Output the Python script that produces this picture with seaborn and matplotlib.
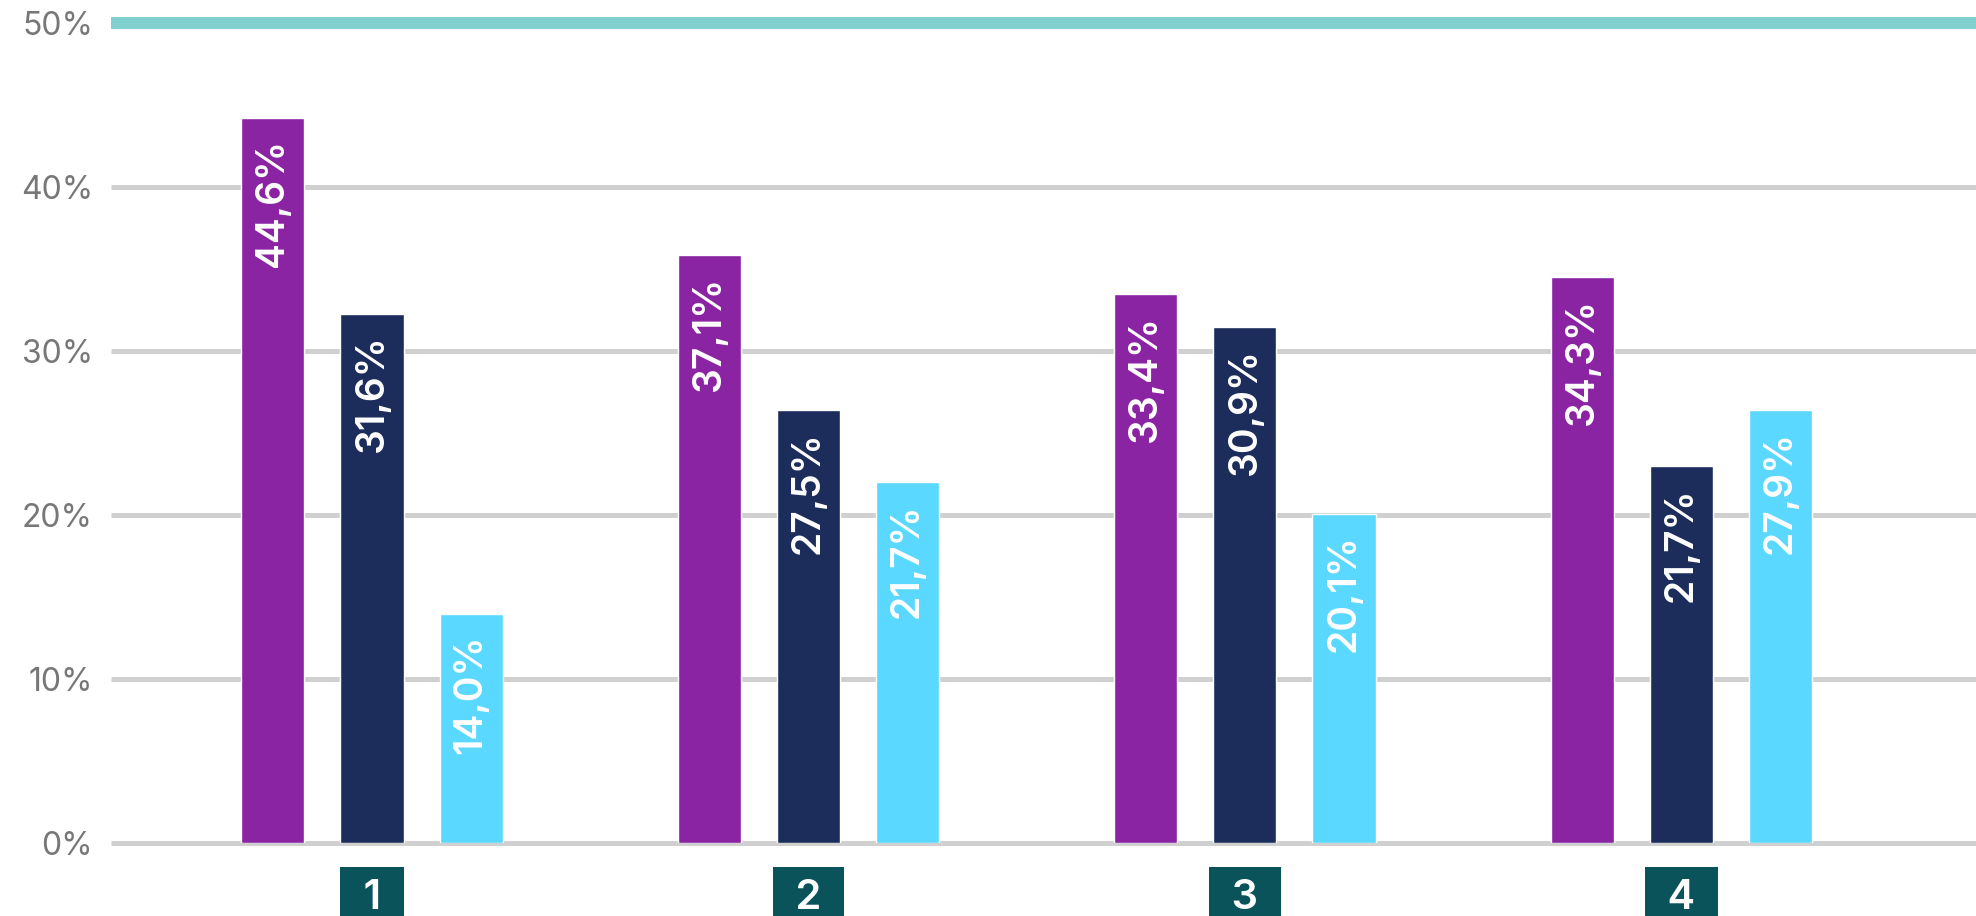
import pandas as pd
import seaborn as sns
import matplotlib.pyplot as plt

# valores
grupos = ['1', '2', '3', '4']
series = ['serie_a', 'serie_b', 'serie_c']
cores = ['#8a24a3', '#1c2d5b', '#5ad8ff']

# altura das barras (como desenhadas)
altura_a = [44.2, 35.9, 33.5, 34.5]
altura_b = [32.3, 26.4, 31.5, 23.0]
altura_c = [14.0, 22.0, 20.1, 26.4]

# rotulos escritos nas barras
rotulos_a = ['44,6%', '37,1%', '33,4%', '34,3%']
rotulos_b = ['31,6%', '27,5%', '30,9%', '21,7%']
rotulos_c = ['14,0%', '21,7%', '20,1%', '27,9%']

ticks_y = [0, 10, 20, 30, 40, 50]

# monta o dataframe longo
df = pd.DataFrame({
    'grupo': grupos * 3,
    'serie': [s for s in series for _ in grupos],
    'valor': altura_a + altura_b + altura_c,
})
rotulos = [rotulos_a, rotulos_b, rotulos_c]

sns.set_theme(style='white')
plt.rcParams['font.family'] = ['Inter', 'DejaVu Sans']

fig = plt.figure(figsize=(19.76, 9.16), dpi=100)
ax = fig.add_axes([111 / 1976, 0.0794, 1865 / 1976, 0.8952])

sns.barplot(data=df, x='grupo', y='valor', hue='serie', order=grupos,
            hue_order=series, palette=cores, saturation=1, width=0.681,
            gap=0.364, legend=False, ax=ax, zorder=2)

ax.set_xlim(-0.598, 3.675)
ax.set_ylim(0, 50)

# linhas de grade (a de 50% em verde-agua)
for t in ticks_y:
    if t == ticks_y[-1]:
        ax.axhline(t, color='#80d0d0', lw=8.6, zorder=0, clip_on=False,
                   solid_capstyle='butt')
    else:
        ax.axhline(t, color='#d0d0d0', lw=3.6, zorder=0, clip_on=False,
                   solid_capstyle='butt')

# rotulos verticais dentro das barras
for container, labs in zip(ax.containers, rotulos):
    for barra, lab in zip(container, labs):
        ax.annotate(lab, (barra.get_x() + barra.get_width() / 2, barra.get_height()),
                    xytext=(0, -15), textcoords='offset points', rotation=90,
                    ha='center', va='top', color='white', fontsize=28,
                    fontweight='semibold', zorder=3)

ax.set_yticks(ticks_y)
ax.set_yticklabels([f'{t}%' for t in ticks_y])
ax.tick_params(axis='y', length=0, pad=13, labelsize=23, labelcolor='#777777')

ax.set_xticks(range(len(grupos)))
ax.set_xticklabels([f' {g} ' for g in grupos])
ax.tick_params(axis='x', length=0, pad=26, labelsize=30, labelcolor='white')
for lbl in ax.get_xticklabels():
    lbl.set_fontweight('semibold')
    lbl.set_bbox(dict(boxstyle='square,pad=0.3', fc='#0a535a', ec='none'))

ax.set_xlabel('')
ax.set_ylabel('')
sns.despine(ax=ax, left=True, bottom=True)

fig.savefig('out.png', dpi=100)
